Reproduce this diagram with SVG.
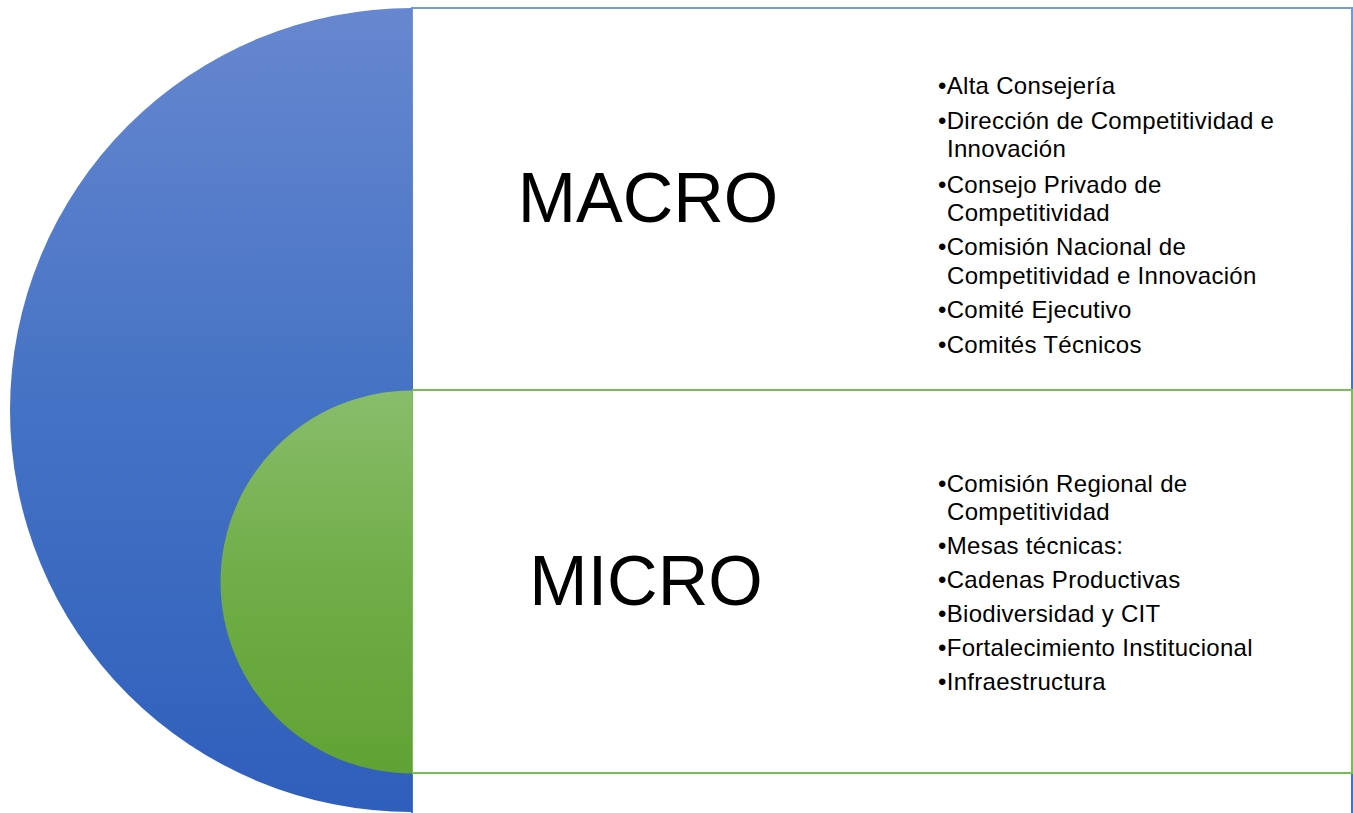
<svg xmlns="http://www.w3.org/2000/svg" width="1353" height="813" viewBox="0 0 1353 813">
  <defs>
    <linearGradient id="gBlue" x1="0" y1="0" x2="0" y2="1">
      <stop offset="0" stop-color="#6787d0"/>
      <stop offset="0.5" stop-color="#4472c4"/>
      <stop offset="1" stop-color="#2f5fbc"/>
    </linearGradient>
    <linearGradient id="gGreen" x1="0" y1="0" x2="0" y2="1">
      <stop offset="0" stop-color="#88bd6b"/>
      <stop offset="0.5" stop-color="#70ad47"/>
      <stop offset="1" stop-color="#61a234"/>
    </linearGradient>
    <linearGradient id="sBlue" x1="0" y1="0" x2="0" y2="1">
      <stop offset="0" stop-color="#7598d9"/>
      <stop offset="1" stop-color="#4472c4"/>
    </linearGradient>
  </defs>
  <style>
    .big { font-family: "Liberation Sans", Arial, sans-serif; font-size: 70px; fill: #000; text-anchor: middle; }
    .item { font-family: "Liberation Sans", Arial, sans-serif; font-size: 24px; letter-spacing: 0.3px; fill: #000; }
    .boxB { fill: #ffffff; stroke: url(#sBlue); stroke-width: 2; }
    .boxB2 { fill: #ffffff; stroke: #4472c4; stroke-width: 2; }
    .boxG { fill: #ffffff; stroke: #7abd57; stroke-width: 2; }
  </style>
  <rect x="0" y="0" width="1353" height="813" fill="#ffffff"/>

  <g id="shapes">
    <g id="bottom-box">
      <rect class="boxB2" x="412" y="773" width="940" height="400"/>
    </g>
    <g id="macro-box">
      <rect class="boxB" x="412" y="8" width="940" height="382"/>
    </g>
    <g id="micro-box">
      <rect class="boxG" x="412" y="390" width="940" height="383"/>
    </g>
    <g id="macro-circle">
      <path d="M 412 8 A 402 402 0 0 0 412 812 Z" fill="url(#gBlue)"/>
    </g>
    <g id="micro-circle">
      <path d="M 412 390.5 A 191.5 191.5 0 0 0 412 773.5 Z" fill="url(#gGreen)"/>
    </g>
  </g>

  <g id="macro">
    <text class="big" x="648" y="222">MACRO</text>
    <text class="item">
      <tspan x="938" y="94">•Alta Consejería</tspan>
      <tspan x="938" y="129">•Dirección de Competitividad e</tspan>
      <tspan x="947" y="157">Innovación</tspan>
      <tspan x="938" y="193">•Consejo Privado de</tspan>
      <tspan x="947" y="221">Competitividad</tspan>
      <tspan x="938" y="255">•Comisión Nacional de</tspan>
      <tspan x="947" y="284">Competitividad e Innovación</tspan>
      <tspan x="938" y="318">•Comité Ejecutivo</tspan>
      <tspan x="938" y="353">•Comités Técnicos</tspan>
    </text>
  </g>

  <g id="micro">
    <text class="big" x="646" y="605">MICRO</text>
    <text class="item">
      <tspan x="938" y="492">•Comisión Regional de</tspan>
      <tspan x="947" y="520">Competitividad</tspan>
      <tspan x="938" y="554">•Mesas técnicas:</tspan>
      <tspan x="938" y="588">•Cadenas Productivas</tspan>
      <tspan x="938" y="622">•Biodiversidad y CIT</tspan>
      <tspan x="938" y="656">•Fortalecimiento Institucional</tspan>
      <tspan x="938" y="690">•Infraestructura</tspan>
    </text>
  </g>

  <g id="connectors"></g>
</svg>
